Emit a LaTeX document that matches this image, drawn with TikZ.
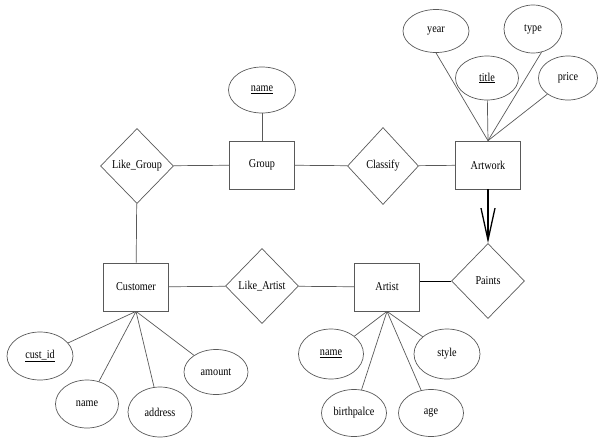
\documentclass[tikz,border=0pt]{standalone}
\usepackage{fontspec}
\setmainfont{Liberation Serif}[FakeStretch=0.85]
\usetikzlibrary{shapes.geometric,arrows.meta}
\tikzset{
  lnk/.style={draw=black!65, line width=0.7pt},
  ent/.style={rectangle, draw=black!65, line width=0.7pt, minimum width=65pt, minimum height=48pt, inner sep=0pt, font=\fontsize{12}{14}\selectfont},
  rel/.style={diamond, draw=black!65, line width=0.7pt, minimum width=73pt, minimum height=75pt, inner sep=0pt, font=\fontsize{12}{14}\selectfont},
  attr/.style={ellipse, draw=black!65, line width=0.7pt, minimum width=65pt, minimum height=46pt, inner sep=0pt, font=\fontsize{12}{14}\selectfont},
  isa/.style={draw=black, line width=1.5pt, -{Straight Barb[length=32pt,width=14pt,line width=1.3pt]}}
}
\begin{document}
\begin{tikzpicture}[x=1pt,y=-1pt]
\useasboundingbox (0,0) rectangle (611,445);
% entities
\node[ent] (artwork) at (488,165) {Artwork};
\node[ent] (artist) at (387,287) {Artist};
\node[ent] (customer) at (136,287) {Customer};
\node[ent] (group) at (262,165) {Group};
% relationships
\node[rel] (paints) at (488,281) {Paints};
\node[rel] (likeartist) at (262,286) {Like\_Artist};
\node[rel] (likegroup) at (137,166) {Like\_Group};
\node[rel, minimum height=77pt, minimum width=71pt] (classify) at (383,166) {Classify};
% attributes of Artwork
\node[attr, minimum width=66pt, minimum height=43pt] (year) at (436,31) {year};
\node[attr, minimum width=58pt, minimum height=48pt] (type) at (533,29) {type};
\node[attr, minimum width=63pt, minimum height=44pt] (title) at (487,78) {\underline{title}};
\node[attr, minimum width=59pt, minimum height=44pt] (price) at (568,78) {price};
% attributes of Artist
\node[attr, minimum height=50pt] (aname) at (331,354) {\underline{name}};
\node[attr, minimum width=66pt, minimum height=50pt] (style) at (447,354) {style};
\node[attr, minimum height=47pt] (birth) at (354,413) {birthpalce};
\node[attr, minimum height=47pt] (age) at (431,413) {age};
% attributes of Customer
\node[attr, minimum width=66pt, minimum height=48pt] (custid) at (40,356) {\underline{cust\_id}};
\node[attr, minimum width=63pt, minimum height=48pt] (cname) at (87,404) {name};
\node[attr, minimum width=64pt, minimum height=50pt] (address) at (160,412) {address};
\node[attr, minimum width=64pt, minimum height=45pt] (amount) at (216,372) {amount};
% attribute of Group
\node[attr, minimum width=67pt, minimum height=46pt] (gname) at (262,90) {\underline{name}};
% attribute links
\draw[lnk] (year.south) -- (artwork.north);
\draw[lnk] (type.290) -- (artwork.north);
\draw[lnk] (title) -- (artwork.north);
\draw[lnk] (price) -- (artwork.north);
\foreach \a in {aname,style,birth,age} \draw[lnk] (\a) -- (artist.south);
\foreach \a in {custid,cname,address,amount} \draw[lnk] (\a) -- (customer.south);
\draw[lnk] (gname) -- (group);
% relationship links
\draw[lnk] (likegroup) -- (group);
\draw[lnk] (group) -- (classify);
\draw[lnk] (classify) -- (artwork);
\draw[lnk] (likegroup) -- (customer);
\draw[lnk] (customer) -- (likeartist);
\draw[lnk] (likeartist) -- (artist);
\draw[draw=black, line width=1pt] (paints.west) -- (paints.west -| artist.east);
\draw[isa] (artwork) -- (paints);
\end{tikzpicture}
\end{document}
